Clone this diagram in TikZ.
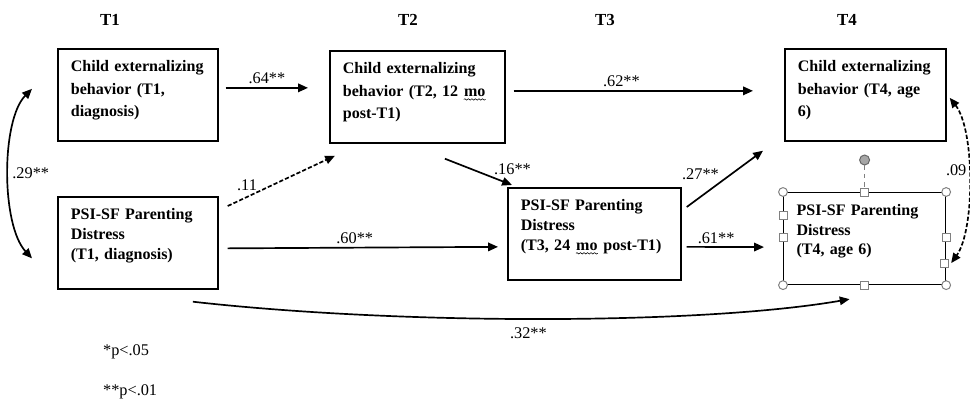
\documentclass[tikz,border=0pt]{standalone}
\usepackage{fontspec}
\setmainfont{Liberation Serif}
\usetikzlibrary{arrows.meta,decorations.pathmorphing}

\newcommand\squig[1]{\tikz[baseline=(sq.base)]{\node[inner sep=0pt] (sq) {#1};
    \draw[line width=0.4pt,decorate,decoration={snake,amplitude=0.5pt,segment length=2.5pt}]
        ([yshift=-2.2pt]sq.base west) -- ([yshift=-2.2pt]sq.base east);}}

\begin{document}
\begin{tikzpicture}[x=0.025cm,y=-0.025cm,
    lbl/.style={font=\fontsize{11.6}{14}\selectfont,inner sep=2pt},
    box/.style={draw,line width=1.2pt,anchor=north west,align=left,
        inner xsep=0.325cm,inner ysep=0pt,text height=0.575cm,text depth=1.725cm,
        font=\bfseries\fontsize{11.4}{16}\selectfont},
    psibox/.style={box,font=\bfseries\fontsize{11.4}{14}\selectfont},
    arr/.style={line width=1.2pt,-{Triangle[length=7pt,width=6pt]}},
    dblarr/.style={line width=1.2pt,{Triangle[length=7pt,width=6pt]}-{Triangle[length=7pt,width=6pt]}},
    grip/.style={draw=gray,fill=white,line width=0.7pt,inner sep=0pt,minimum size=0.2cm}]
\useasboundingbox (0,0) rectangle (970,405);

% time points
\node[lbl,font=\bfseries\fontsize{12}{14}\selectfont] (t1) at (110,20) {T1};
\node[lbl,font=\bfseries\fontsize{12}{14}\selectfont] (t2) at (408,20) {T2};
\node[lbl,font=\bfseries\fontsize{12}{14}\selectfont] (t3) at (605,20) {T3};
\node[lbl,font=\bfseries\fontsize{12}{14}\selectfont] (t4) at (847,20) {T4};

% boxes
\node[box,text width=3.35cm] (cA) at (57,48) {Child externalizing\\behavior (T1,\\diagnosis)};
\node[box,text width=3.725cm] (cB) at (329,50) {Child externalizing\\behavior (T2, 12 \squig{mo}\\post-T1)};
\node[box,text width=3.375cm] (cC) at (784,48) {Child externalizing\\behavior (T4, age\\6)};
\node[psibox,text width=3.35cm] (pD) at (57,196) {PSI-SF Parenting\\Distress\\(T1, diagnosis)};
\node[psibox,text width=3.675cm] (pE) at (507,187) {PSI-SF Parenting\\Distress\\(T3, 24 \squig{mo} post-T1)};
\node[psibox,text width=3.4cm,line width=0.8pt] (pF) at (783,192) {PSI-SF Parenting\\Distress\\(T4, age 6)};

% paths
\begin{scope}[every edge/.style={draw,arr}]
    \path ([shift={(7,-7)}]cA.east) edge node[lbl,above,name=w64] {.64**} ([shift={(-21,-9)}]cB.west);
    \path ([shift={(8,-6)}]cB.east) edge node[lbl,above,pos=0.45,name=w62] {.62**} ([shift={(-31,-4)}]cC.west);
    \path ([shift={(9,10)}]pD.north east) edge[dashed,dash pattern=on 3pt off 1.5pt] node[lbl,above,pos=0.18,inner sep=4pt,name=w11] {.11} ([shift={(6,12)}]cB.south west);
    \path ([shift={(27.5,15)}]cB.south) edge node[lbl,above right,pos=0.7,inner sep=1pt,name=w16] {.16**} ([shift={(5,-2)}]pE.north west);
    \path ([shift={(9,5.5)}]pD.east) edge node[lbl,above,pos=0.47,name=w60] {.60**} ([shift={(-9,13)}]pE.west);
    \path ([shift={(5,20)}]pE.north east) edge node[lbl,above left,pos=0.45,inner sep=1pt,name=w27] {.27**} ([shift={(-21,9)}]cC.south west);
    \path ([shift={(5,13)}]pE.east) edge node[lbl,above,pos=0.38,name=w61] {.61**} ([shift={(-19,8.5)}]pF.west);
\end{scope}

\draw[arr] ([shift={(55,12)}]pD.south) .. controls (400,325) and (700,325) .. node[lbl,below=4pt,pos=0.48,name=w32] {.32**} ([shift={(-15,14)}]pF.south);
\draw[dblarr] ([shift={(-25,-6)}]cA.west) .. controls (1,120) and (1,225) .. node[lbl,right,name=w29] {.29**} ([shift={(-25,15.5)}]pD.west);
\draw[dblarr,dashed,dash pattern=on 3pt off 1.5pt] ([shift={(3,3)}]cC.east) .. controls (975,130) and (975,230) .. node[lbl,left,pos=0.45,inner sep=1pt,name=w09] {.09} ([shift={(5,24.5)}]pF.east);

% selection handles
\node[grip] (hn) at (pF.north) {};
\node[grip] (hs) at (pF.south) {};
\node[grip] (hw1) at ([shift={(0,-23.5)}]pF.west) {};
\node[grip] (hw2) at ([shift={(0,-1.5)}]pF.west) {};
\node[grip] (he1) at ([shift={(0,-1.5)}]pF.east) {};
\node[grip] (he2) at ([shift={(-2,24.5)}]pF.east) {};
\foreach \c [count=\i] in {north west,north east,south west,south east}
    \node[grip,circle,minimum size=0.22cm] (hc\i) at (pF.\c) {};
\node[grip,circle,draw=gray!80!black,fill=gray!70,minimum size=0.25cm] (rot) at ([shift={(0,-32)}]pF.north) {};
\draw[gray,dashed,line width=0.7pt] (rot) -- (hn);

% legend
\node[lbl,anchor=west] (p05) at (100,352) {*p<.05};
\node[lbl,anchor=west] (p01) at (100,392) {**p<.01};
\end{tikzpicture}
\end{document}
